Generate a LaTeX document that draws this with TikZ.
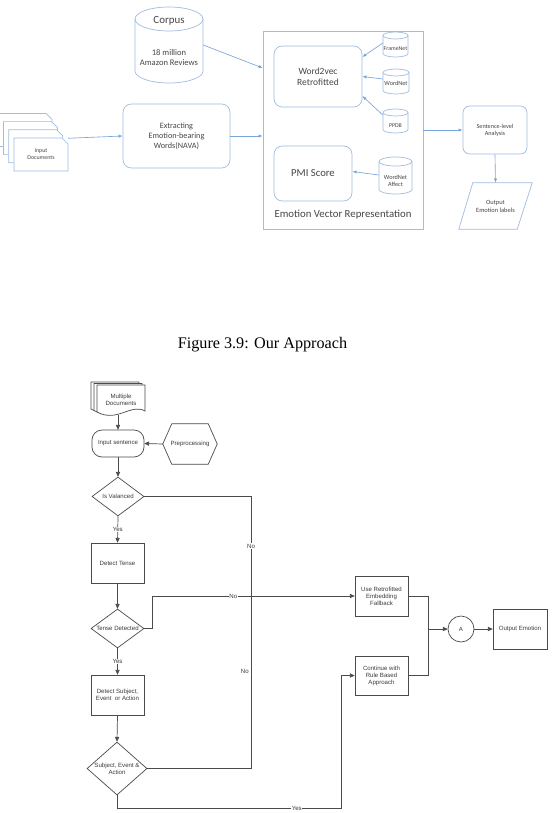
\documentclass[tikz,border=0pt]{standalone}
\usepackage{fontspec}
\setmainfont{Liberation Serif}
\newfontfamily\calfont{Carlito}
\newfontfamily\arfont{Liberation Sans}
\usetikzlibrary{shapes.geometric,arrows.meta,calc}
\newdimen\pxu
\pxu=0.03cm
\definecolor{tline}{RGB}{160,188,222}
\definecolor{tarrow}{RGB}{120,165,218}
\definecolor{ttext}{RGB}{70,70,70}
\definecolor{fline}{RGB}{75,75,75}
\definecolor{ftext}{RGB}{60,60,60}
\newcommand\topfont[2]{\calfont\fontsize{#1}{#2}\selectfont}
\newcommand\flowfont{\arfont\fontsize{5.2}{6}\selectfont}
\newcommand\mycyl[5]{%
  \draw[tl,fill=white] (#1,#3+#5) -- (#1,#4-#5)
     arc[start angle=180,end angle=0,x radius={(#2-#1)/2},y radius=#5]
     -- (#2,#3+#5)
     arc[start angle=0,end angle=-180,x radius={(#2-#1)/2},y radius=#5] -- cycle;
  \draw[tl] (#1,#3+#5) arc[start angle=180,end angle=0,x radius={(#2-#1)/2},y radius=#5];
}
\begin{document}
\begin{tikzpicture}[x=0.03cm,y=-0.03cm,
  tl/.style={draw=tline,line width=0.6pt},
  tbox/.style={tl,fill=white,rounded corners=0.25cm,text=ttext,align=center,inner sep=0pt},
  tarr/.style={draw=tarrow,line width=0.55pt,-{Latex[length=3.5pt,width=2.8pt]}},
  ttxt/.style={text=ttext,align=center,inner sep=0pt},
  fl/.style={draw=fline,line width=0.6pt},
  fbox/.style={fl,fill=white,text=ftext,align=center,inner sep=0pt,font=\flowfont},
  farr/.style={draw=fline,line width=0.6pt,-{Triangle[length=4pt,width=3.6pt]}},
  flab/.style={text=ftext,font=\flowfont,inner sep=0.6pt,fill=white},
]
\fill[white] (0,0) rectangle (552,813);
\useasboundingbox (0,0) rectangle (552,813);

% ================= TOP FIGURE =================
% input documents (stack)
\foreach \k in {3,2,1,0} {
  \draw[tl,fill=white] ({14-5.3*\k},{138-8.2*\k}) -- ++(48,0) -- ++(6,6) -- ++(0,27) -- ++(-54,0) -- cycle;
}
\node[ttxt,minimum width=54*\pxu,minimum height=33*\pxu,font={\topfont{5}{6}}] (indoc) at (41,154.5) {Input\\Documents};

% corpus
\mycyl{135}{203}{7}{83}{12}
\node[minimum width=68*\pxu,minimum height=76*\pxu,inner sep=0pt] (corpus) at (169,45) {};
\node[ttxt,font={\topfont{9.3}{11}}] (corpusT) at (169,21) {Corpus};
\node[ttxt,font={\topfont{7.3}{8.5}}] (corpusB) at (169,58) {18 million\\Amazon Reviews};

% extracting
\node[tbox,minimum width=107*\pxu,minimum height=64*\pxu,font={\topfont{7}{8.5}}] (extr) at (176.5,136) {Extracting\\Emotion-bearing\\Words(NAVA)};

% container
\node[tl,minimum width=160*\pxu,minimum height=198*\pxu,inner sep=0pt] (evr) at (343,130) {};
\node[ttxt,font={\topfont{9.2}{11}}] (evrlab) at (343,215) {Emotion Vector Representation};
\node[tbox,minimum width=88*\pxu,minimum height=61*\pxu,font={\topfont{8.1}{9.4}}] (w2v) at (318,76.5) {Word2vec\\Retrofitted};
\node[tbox,minimum width=78*\pxu,minimum height=55*\pxu,font={\topfont{9.1}{11}}] (pmi) at (313,173.5) {PMI Score};

% small cylinders
\mycyl{383}{408}{32}{57}{3.5}
\node[ttxt,minimum width=25*\pxu,font={\topfont{5}{6}}] (fn) at (395.5,49) {FrameNet};
\mycyl{383}{409}{69}{94}{3.5}
\node[ttxt,minimum width=26*\pxu,font={\topfont{5.3}{6}}] (wn) at (396,83) {WordNet};
\mycyl{383}{408}{109}{133}{3.5}
\node[ttxt,minimum width=25*\pxu,font={\topfont{5}{6}}] (pp) at (395.5,126) {PPDB};
\mycyl{379}{412}{157}{194}{4.5}
\node[ttxt,minimum width=33*\pxu,font={\topfont{5.3}{6.2}}] (wna) at (395.5,180.5) {WordNet\\Affect};

% sentence level + output
\node[tbox,rounded corners=0.2cm,minimum width=64*\pxu,minimum height=48*\pxu,font={\topfont{5.3}{6.2}}] (sent) at (495,130) {Sentence-level\\Analysis};
\node[ttxt,minimum width=73*\pxu,minimum height=46*\pxu,font={\topfont{5.5}{6.8}}] (outl) at (495.5,206) {Output\\Emotion labels};
\draw[tl] ($(outl.north west)+(14,0)$) -- (outl.north east) -- ($(outl.south east)+(-15,0)$) -- (outl.south west) -- cycle;

% top connectors
\draw[tarr] (corpus.east) -- (evr.west |- 0,68);
\draw[tarr] ($(indoc.north east)+(0,0.5)$) -- (extr.west);
\draw[tarr] (extr.east) -- (evr.west |- extr.east);
\draw[tarr] ($(fn.west)+(0,-6)$) -- ($(w2v.east)+(0,-19.5)$);
\draw[tarr] ($(wn.west)+(0,-4)$) -- (w2v.east);
\draw[tarr] ($(pp.west)+(0,-11)$) -- ($(w2v.east)+(0,19.5)$);
\draw[tarr] ($(wna.west)+(0,-5.5)$) -- ($(pmi.east)+(0,-2)$);
\draw[tarr] (evr.east) -- (sent.west);
\draw[tarr] (sent.south) -- (outl.north);

% caption
\node[anchor=base,inner sep=0pt,font=\fontsize{13.8}{16}\selectfont] (cap) at (262.5,348) {Figure 3.9: Our Approach};

% ================= FLOWCHART =================
\foreach \dx/\dy in {-6/-3,-3/-1.5,0/0} {
  \draw[fl,fill=white] ({97+\dx},{385+\dy}) -- ++(48,0) -- ++(0,26)
     .. controls +(-14,-8) and +(20,11) .. ++(-48,1) -- cycle;
}
\node[text=ftext,align=center,inner sep=0pt,font=\flowfont,minimum width=48*\pxu,minimum height=30*\pxu] (mdoc) at (121,400) {Multiple\\Documents};

\node[fbox,rounded corners=0.3cm,minimum width=52*\pxu,minimum height=27*\pxu] (insent) at (118,443.5) {Input sentence};

\node[text=ftext,inner sep=0pt,font=\flowfont,minimum width=54*\pxu,minimum height=40*\pxu] (prep) at (190,444) {Preprocessing};
\draw[fl] (prep.west) -- ($(prep.north west)+(9,0)$) -- ($(prep.north east)+(-9,0)$) -- (prep.east) -- ($(prep.south east)+(-9,0)$) -- ($(prep.south west)+(9,0)$) -- cycle;

\node[fbox,diamond,aspect=1.33,minimum width=52*\pxu,minimum height=39*\pxu] (isval) at (118,496.5) {Is Valanced};
\node[fbox,minimum width=53*\pxu,minimum height=40*\pxu] (dtense) at (117.5,563) {Detect Tense};
\node[fbox,diamond,aspect=1.36,minimum width=53*\pxu,minimum height=39*\pxu] (tdet) at (117.5,628.5) {Tense Detected};
\node[fbox,minimum width=53*\pxu,minimum height=40*\pxu] (dsub) at (117.5,695) {Detect Subject,\\Event~ or Action};
\node[fbox,diamond,aspect=1.13,minimum width=60*\pxu,minimum height=53*\pxu] (sea) at (117,768.5) {Subject, Event \&\\Action};

\node[fbox,minimum width=53*\pxu,minimum height=40*\pxu] (useret) at (381.5,596) {Use Retrofitted\\Embedding\\Fallback};
\node[fbox,minimum width=53*\pxu,minimum height=39*\pxu] (cont) at (381.5,675.5) {Continue with\\Rule Based\\Approach};
\node[fbox,circle,minimum size=26*\pxu] (circA) at (461,629) {A};
\node[fbox,minimum width=54*\pxu,minimum height=40*\pxu] (outem) at (520,629) {Output Emotion};

\coordinate (J) at (251,596);
\coordinate (mx) at ($(cont.east)+(20,0)$);

% flowchart connectors
\draw[farr] (insent.north |- mdoc.south) -- (insent.north);
\draw[farr] (prep.west) -- (insent.east);
\draw[farr] (insent.south) -- (isval.north);
\draw[farr] (isval.south) -- node[flab]{Yes} (dtense.north);
\draw[farr] (dtense.south) -- (tdet.north);
\draw[farr] (tdet.south) -- node[flab]{Yes} (dsub.north);
\draw[farr] (dsub.south) -- (sea.north);
\draw[fl] (isval.east) -| node[flab,pos=0.75]{No} (J);
\draw[farr] (tdet.east) -- ++(8,0) |- node[flab,pos=0.7]{No} (useret.west);
\draw[fl] (sea.east) -| node[flab,pos=0.78,left=1pt]{No} (J);
\draw[farr] (sea.south) -- ++(0,13) -| node[flab,pos=0.4]{Yes} ($(cont.west)+(-13,0)$) -- (cont.west);
\draw[fl] (useret.east) -| (mx) -- (cont.east);
\draw[farr] (mx |- circA.west) -- (circA.west);
\draw[farr] (circA.east) -- (outem.west);
\end{tikzpicture}
\end{document}
